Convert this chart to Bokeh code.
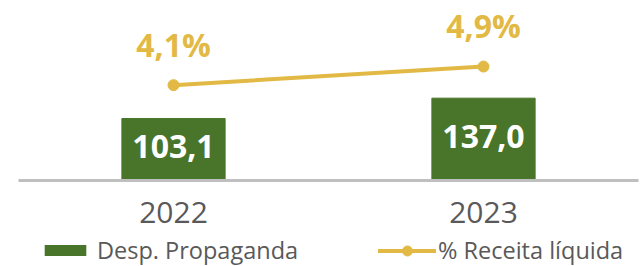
from bokeh.plotting import figure
from bokeh.layouts import column
from bokeh.models import FactorRange, Range1d, Legend, LegendItem, ColumnDataSource
from bokeh.core.properties import value
from bokeh.embed import file_html
from bokeh.resources import INLINE

# ---- data ----
years = ["2022", "2023"]
desp = [103.1, 137.0]
pct = [4.1, 4.9]
desp_labels = ["103,1", "137,0"]
pct_labels = ["4,1%", "4,9%"]
series_names = ["Desp. Propaganda", "% Receita líquida"]

GREEN = "#48752A"
GOLD = "#E2B944"
GRAY = "#595959"
AXIS = "#BFBFBF"
FONT = "Open Sans"

src = ColumnDataSource(dict(
    years=years, desp=desp, half=[v / 2 for v in desp], pct=pct,
    desp_labels=desp_labels, pct_labels=pct_labels,
))

# ---- main chart ----
p = figure(width=644, height=234,
           x_range=FactorRange(*years, range_padding=0),
           y_range=Range1d(0, 299.5),
           output_backend="svg", toolbar_location=None,
           min_border_left=18, min_border_right=6, min_border_top=0,
           min_border_bottom=54, y_axis_location=None)
p.extra_y_ranges = {"pct": Range1d(0, 7.74)}

p.vbar(x="years", top="desp", width=0.333, source=src,
       fill_color=GREEN, line_color=GREEN)
p.line(x="years", y="pct", source=src, y_range_name="pct",
       line_color=GOLD, line_width=4, line_cap="round")
p.scatter(x="years", y="pct", source=src, y_range_name="pct",
          size=11, fill_color=GOLD, line_color=GOLD)

p.text(x="years", y="half", text="desp_labels", source=src,
       text_align="center", text_baseline="middle", y_offset=-3,
       text_font=value(FONT), text_font_style="bold",
       text_font_size="32px", text_color="white")
p.text(x="years", y="pct", text="pct_labels", source=src, y_range_name="pct",
       text_align="center", text_baseline="middle", y_offset=-41,
       text_font=value(FONT), text_font_style="bold",
       text_font_size="32px", text_color=GOLD)

p.xaxis.axis_line_color = AXIS
p.xaxis.axis_line_width = 3
p.xaxis.major_tick_line_color = None
p.xaxis.minor_tick_line_color = None
p.xaxis.major_tick_out = 0
p.xaxis.major_label_text_font = FONT
p.xaxis.major_label_text_font_size = "30px"
p.xaxis.major_label_text_color = GRAY
p.xaxis.major_label_standoff = 21
p.grid.visible = False
p.outline_line_color = None

# ---- legend strip (legend renderers sit outside the strip's visible range) ----
lg = figure(width=644, height=32,
            x_range=FactorRange(*years, range_padding=0),
            y_range=Range1d(1000, 1001),
            output_backend="svg", toolbar_location=None,
            min_border=0, x_axis_location=None, y_axis_location=None)
lg.grid.visible = False
lg.outline_line_color = None
lb = lg.vbar(x="years", top="desp", width=0.333, source=src,
             fill_color=GREEN, line_color=None)
ll = lg.line(x="years", y="pct", source=src, line_color=GOLD,
             line_width=4, line_cap="round")
lp = lg.scatter(x="years", y="pct", source=src, size=11,
                fill_color=GOLD, line_color=GOLD)

common = dict(orientation="horizontal", padding=0, margin=0,
              border_line_alpha=0, background_fill_alpha=0,
              label_text_font=FONT, label_text_font_size="23.5px",
              label_text_color=GRAY)
leg1 = Legend(items=[LegendItem(label=series_names[0], renderers=[lb])],
              location=(21, 0), glyph_width=52, glyph_height=14,
              label_standoff=6, **common)
leg2 = Legend(items=[LegendItem(label=series_names[1], renderers=[ll, lp])],
              location=(360, 0), glyph_width=58, glyph_height=25,
              label_standoff=2, **common)
lg.add_layout(leg1)
lg.add_layout(leg2)

layout = column(p, lg, spacing=0)
open("out.html", "w").write(file_html(layout, INLINE))
